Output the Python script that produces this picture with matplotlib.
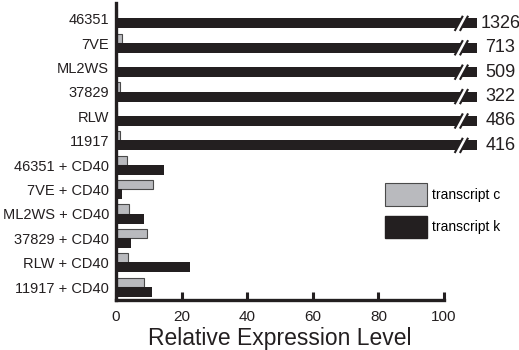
import numpy as np
import matplotlib
matplotlib.use("Agg")
import matplotlib.pyplot as plt
from matplotlib.patches import Patch

# данные
categories = ['46351', '7VE', 'ML2WS', '37829', 'RLW', '11917',
              '46351 + CD40', '7VE + CD40', 'ML2WS + CD40', '37829 + CD40',
              'RLW + CD40', '11917 + CD40']
transcript_c = [0.3, 1.8, 0.3, 1.2, 0.3, 1.2, 3.3, 11.4, 4.0, 9.4, 3.8, 8.6]
transcript_k = [1326, 713, 509, 322, 486, 416, 14.5, 1.7, 8.4, 4.5, 22.6, 11.1]
x_ticks = [0, 20, 40, 60, 80, 100]

# ось разорвана: всё, что больше 100, рисуем до 110
axis_max = 100
bar_cap = 110
break_at = 105.3
value_x = 117.2

plt.rcParams['font.family'] = ['Liberation Sans', 'DejaVu Sans']

gray = '#b9babe'
black = '#231f20'

fig = plt.figure(figsize=(5.19, 3.5), dpi=100)
ax = fig.add_axes([116 / 519, 50 / 350, 328 / 519, 297 / 350])

y = np.arange(len(categories))
h = 0.39
k_shown = [min(v, bar_cap) for v in transcript_k]

ax.barh(y - h / 2, transcript_c, height=h, color=gray, edgecolor='#4a4a4a',
        linewidth=0.8, clip_on=False, zorder=2)
ax.barh(y + h / 2, k_shown, height=h * 1.05, color=black, linewidth=0,
        clip_on=False, zorder=2)

# значки разрыва и подписи значений
sep = 0.8    # половина расстояния между штрихами
dx = 1.25    # наклон штриха по x
dy = 0.31    # половина высоты штриха
for yi, v in zip(y, transcript_k):
    if v > axis_max:
        yc = yi + h / 2
        hb = h * 0.56
        k = dx / dy
        ax.fill([break_at - sep + k * hb, break_at + sep + k * hb,
                 break_at + sep - k * hb, break_at - sep - k * hb],
                [yc - hb, yc - hb, yc + hb, yc + hb],
                color='white', zorder=3, clip_on=False, lw=0)
        for off in (-sep, sep):
            ax.plot([break_at + off - dx, break_at + off + dx], [yc + dy, yc - dy],
                    color=black, lw=1.5, clip_on=False, zorder=4,
                    solid_capstyle='butt')
        ax.text(value_x, yc, str(v), ha='center', va='center',
                fontsize=13, color=black, clip_on=False)

ax.set_xlim(0, axis_max)
ax.set_ylim(len(categories) - 1 + 0.53, -0.64)
ax.set_yticks(y)
ax.set_yticklabels(categories, fontsize=10.5)
ax.set_xticks(x_ticks)
ax.set_xticklabels([str(t) for t in x_ticks], fontsize=11)
ax.tick_params(axis='y', length=0, pad=5, colors=black)
ax.tick_params(axis='x', direction='in', length=6, width=2.2, pad=7, colors=black)

for s in ('top', 'right'):
    ax.spines[s].set_visible(False)
for s in ('left', 'bottom'):
    ax.spines[s].set_linewidth(2.4)
    ax.spines[s].set_color(black)

ax.set_xlabel('Relative Expression Level', fontsize=16.5, color=black, labelpad=2)

handles = [Patch(facecolor=gray, edgecolor='#4a4a4a', linewidth=0.8, label='transcript c'),
           Patch(facecolor=black, edgecolor=black, label='transcript k')]
leg = ax.legend(handles=handles, loc='upper left', bbox_to_anchor=(0.82, 0.394),
                frameon=False, borderpad=0, borderaxespad=0,
                handlelength=3.0, handleheight=2.15,
                handletextpad=0.4, labelspacing=0.7,
                prop={'size': 10})

fig.savefig('out.png', dpi=100)
